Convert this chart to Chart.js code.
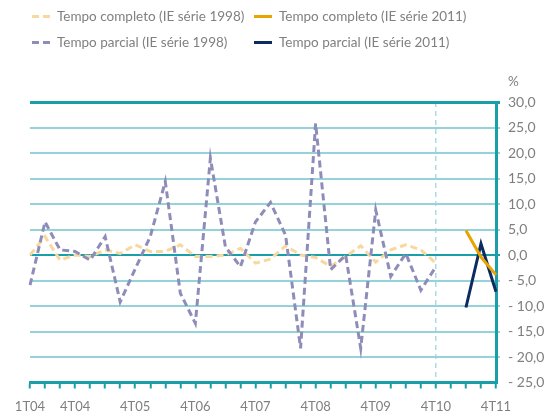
<!DOCTYPE html>
<html>
<head>
<meta charset="utf-8">
<script src="https://cdn.jsdelivr.net/npm/chart.js@4.4.0/dist/chart.umd.min.js"></script>
<style>
  html, body { margin: 0; padding: 0; background: #fff; }
  #wrap { position: relative; width: 545px; height: 418px; }
  #legend {
    position: absolute; left: 32px; top: 7px;
    display: grid; grid-template-columns: 222px auto; row-gap: 8px;
    font: 13.5px Lato, sans-serif; color: #808080;
  }
  .item { display: flex; align-items: center; height: 18px; white-space: nowrap; }
  .swatch { width: 18px; height: 3px; margin-right: 7px; }
</style>
</head>
<body>
<div id="wrap">
  <canvas id="chart" width="545" height="418"></canvas>
  <div id="legend"></div>
</div>
<script>
const quarters = [
  '1T04','2T04','3T04','4T04','1T05','2T05','3T05','4T05',
  '1T06','2T06','3T06','4T06','1T07','2T07','3T07','4T07',
  '1T08','2T08','3T08','4T08','1T09','2T09','3T09','4T09',
  '1T10','2T10','3T10','4T10','1T11','2T11','3T11','4T11'
];
const shownTicks = ['1T04','4T04','4T05','4T06','4T07','4T08','4T09','4T10','4T11'];

const completo1998 = [0, 3.6, -1.0, 0, -0.3, 1.0, 0.3, 2.0, 0.7, 0.7, 2.0, -0.3, -0.3, 0, 1.3, -1.6,
  -0.8, 1.8, 0, -0.5, -2.2, -0.3, 1.8, -1.4, 1.0, 2.0, 1.0, -1.6, null, null, null, null];
const parcial1998 = [-5.9, 6.5, 1.0, 0.7, -1.0, 3.6, -9.2, -2.7, 3.6, 14.4, -7.5, -13.4, 19.0, 1.6, -2.3, 6.5,
  10.3, 3.9, -18.3, 25.8, -2.9, 0, -18.3, 8.8, -4.2, 0.3, -6.9, -2.3, null, null, null, null];
const completo2011 = [null, null, null, null, null, null, null, null, null, null, null, null, null, null, null, null,
  null, null, null, null, null, null, null, null, null, null, null, null, null, 4.8, -0.4, -3.9];
const parcial2011 = [null, null, null, null, null, null, null, null, null, null, null, null, null, null, null, null,
  null, null, null, null, null, null, null, null, null, null, null, null, null, -10.3, 2.2, -7.2];

const teal = '#1a9ea9';
const lightTeal = '#93d3d9';

Chart.defaults.font.family = 'Lato, sans-serif';
Chart.defaults.font.size = 13;
Chart.defaults.color = '#7f7f7f';

const percentLabel = {
  id: 'percentLabel',
  afterDraw(chart) {
    const {ctx, chartArea, scales} = chart;
    ctx.save();
    ctx.font = '13.5px Lato, sans-serif';
    ctx.fillStyle = '#7f7f7f';
    ctx.textAlign = 'left';
    ctx.textBaseline = 'middle';
    ctx.fillText('%', scales.y.left + 12, chartArea.top - 20);
    ctx.restore();
  }
};

const chart = new Chart(document.getElementById('chart'), {
  type: 'line',
  data: {
    labels: quarters,
    datasets: [{
      label: 'Tempo completo (IE série 1998)',
      data: completo1998,
      borderColor: '#f8d89e',
      borderDash: [7, 4],
      order: 1
    }, {
      label: 'Tempo completo (IE série 2011)',
      data: completo2011,
      borderColor: '#e8a400',
      order: 0
    }, {
      label: 'Tempo parcial (IE série 1998)',
      data: parcial1998,
      borderColor: '#8e8cb9',
      borderDash: [7, 4],
      order: 0
    }, {
      label: 'Tempo parcial (IE série 2011)',
      data: parcial2011,
      borderColor: '#0c2b61',
      order: 0
    }]
  },
  options: {
    responsive: false,
    animation: false,
    layout: { padding: { left: 30, top: 102, right: 0, bottom: 0 } },
    elements: {
      line: { borderWidth: 3, tension: 0, fill: false },
      point: { radius: 0 }
    },
    plugins: {
      legend: { display: false },
      tooltip: { enabled: false }
    },
    scales: {
      x: {
        afterFit: s => { s.height = 35.5; },
        grid: {
          color: c => c.index === 27 ? '#a8dce1' : 'transparent',
          lineWidth: 1.5,
          tickColor: teal,
          tickWidth: 2,
          tickLength: 6
        },
        border: { color: teal, width: 3, dash: [5, 4] },
        ticks: {
          autoSkip: false,
          maxRotation: 0,
          padding: 11,
          callback: function (v, i) {
            const l = this.getLabelForValue(v);
            return shownTicks.includes(l) ? l : '';
          }
        }
      },
      y: {
        position: 'right',
        min: -25,
        max: 30,
        afterFit: s => { s.width = 49; },
        grid: {
          color: c => c.tick.value === -25 ? 'transparent' : (c.tick.value === 30 || c.tick.value === 0 ? teal : lightTeal),
          lineWidth: c => c.tick.value === 30 ? 3 : 2,
          tickLength: 4
        },
        border: { color: teal, width: 3 },
        ticks: {
          stepSize: 5,
          padding: 8,
          font: { size: 14 },
          callback: v => (v < 0 ? '- ' + Math.abs(v).toFixed(1) : v.toFixed(1)).replace('.', ',')
        }
      }
    }
  },
  plugins: [percentLabel]
});

// legend built from the datasets, laid out in two aligned columns
const legend = document.getElementById('legend');
chart.data.datasets.forEach(ds => {
  const item = document.createElement('div');
  item.className = 'item';
  const sw = document.createElement('span');
  sw.className = 'swatch';
  sw.style.background = ds.borderDash
    ? `repeating-linear-gradient(to right, ${ds.borderColor} 0 7px, transparent 7px 11px)`
    : ds.borderColor;
  const txt = document.createElement('span');
  txt.textContent = ds.label;
  item.appendChild(sw);
  item.appendChild(txt);
  legend.appendChild(item);
});
</script>
</body>
</html>
